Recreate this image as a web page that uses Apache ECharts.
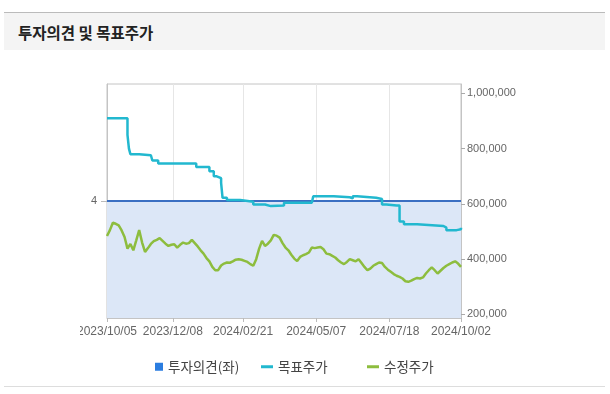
<!DOCTYPE html>
<html><head><meta charset="utf-8">
<script src="https://cdn.jsdelivr.net/npm/echarts@6/dist/echarts.min.js"></script>
<style>
html,body{margin:0;padding:0;background:#fff;width:610px;height:394px;overflow:hidden;}
#band{position:absolute;left:4px;top:12px;width:601px;height:37px;background:#f4f4f4;border-top:1px solid #bbb;}
#title{position:absolute;left:18px;top:21px;font-family:"Noto Sans CJK KR",sans-serif;font-weight:bold;font-size:15.5px;line-height:22px;color:#222;}
#foot{position:absolute;left:4px;top:386px;width:601px;height:1px;background:#ddd;}
#chart{position:absolute;left:80px;top:0;width:530px;height:394px;}
</style></head>
<body>
<div id="band"></div>
<div id="title">투자의견 및 목표주가</div>
<div id="foot"></div>
<div id="chart"></div>
<script>
// Korean market holidays (weekdays) in the period
const holidays = ['2023/10/09','2023/12/25','2023/12/29','2024/01/01','2024/02/09','2024/02/12','2024/03/01','2024/04/10','2024/05/01','2024/05/06','2024/05/15','2024/06/06','2024/08/15','2024/09/16','2024/09/17','2024/09/18','2024/10/01'];
const startDate = '2023/10/05';
const endDate = '2024/10/02';
const labelDates = ['2023/10/05','2023/12/08','2024/02/21','2024/05/07','2024/07/18','2024/10/02'];
const rightTicks = [200000,400000,600000,800000,1000000];
const leftTicks = [4];

// 투자의견 (left axis): 4 throughout
const opinionDates = ['2023/10/05','2024/10/02'];
const opinionVals = [4,4];

// 목표주가 change points (trading-day index, won)
const targetIdx = [0,14,15,16,22,30,31,35,61,70,73,75,78,79,82,91,100,105,108,112,121,140,141,155,166,168,171,184,188,191,198,200,203,212,230,232,239,242];
const targetVals = [910000,850000,800000,780000,776000,770000,757000,746000,734000,718000,700000,693000,676000,622000,614000,608000,598000,598000,592000,594000,604000,606000,628000,624000,620000,628000,622000,618000,598000,594000,594000,536000,526000,520000,514000,505000,508000,514000];

// 수정주가, every second trading day (thousand won)
const priceVals = [
484,505,532,528,522,504,480,438,455,432,
468,505,460,426,440,455,465,470,476,466,
456,448,452,454,442,452,460,456,458,470,
458,446,432,420,404,392,372,360,360,377,
384,388,387,392,398,400,398,394,390,382,
376,400,438,466,448,456,468,488,485,478,
458,442,432,416,402,393,408,414,418,424,
442,440,442,444,436,420,418,412,406,396,
388,382,390,400,396,392,400,386,372,360,
366,376,382,388,386,372,362,354,346,340,
336,330,320,318,322,328,332,330,334,348,
360,370,360,348,358,368,376,382,388,392,
384,372];

function fmt(d){const m=d.getMonth()+1,dd=d.getDate();return d.getFullYear()+'/'+(m<10?'0':'')+m+'/'+(dd<10?'0':'')+dd;}
const cats=[];
(function(){
  const s=new Date(startDate.replace(/\//g,'-')+'T00:00:00');
  const e=new Date(endDate.replace(/\//g,'-')+'T00:00:00');
  for(let d=new Date(s);d<=e;d.setDate(d.getDate()+1)){
    const w=d.getDay(); if(w===0||w===6) continue;
    const f=fmt(d); if(holidays.indexOf(f)>=0) continue;
    cats.push(f);
  }
})();
const isLbl=(i,v)=>labelDates.indexOf(v)>=0;

const opinionData = opinionDates.map((d,i)=>[d,opinionVals[i]]);
const targetData = targetIdx.map((k,i)=>[cats[Math.min(k,cats.length-1)],targetVals[i]]);
const priceData = priceVals.map((v,i)=>[cats[Math.min(i*2,cats.length-1)],v*1000]);

const chart = echarts.init(document.getElementById('chart'));
const txt = {fontFamily:'"Noto Sans CJK KR",sans-serif',fontSize:13.5,color:'#444'};
chart.setOption({
  animation:false,
  grid:{left:27,right:149,top:84,bottom:76,show:true,borderColor:'#c4c4c4',borderWidth:1,backgroundColor:'transparent',containLabel:false,outerBoundsMode:'none'},
  legend:[
    {left:70,top:355,icon:'rect',itemWidth:8,itemHeight:8,itemGap:4,textStyle:txt,selectedMode:false,
     data:[{name:'투자의견(좌)',itemStyle:{color:'#2b7de0'}}]},
    {left:176,top:355,icon:'rect',itemWidth:12,itemHeight:3,textStyle:txt,selectedMode:false,
     data:[{name:'목표주가',itemStyle:{color:'#22b8cf'}}]},
    {left:282,top:355,icon:'rect',itemWidth:12,itemHeight:3,textStyle:txt,selectedMode:false,
     data:[{name:'수정주가',itemStyle:{color:'#8dbd3e'}}]}
  ],
  xAxis:{type:'category',data:cats,boundaryGap:false,
    axisLine:{lineStyle:{color:'#c4c4c4'}},
    axisTick:{interval:isLbl,length:4,lineStyle:{color:'#bbb'}},
    axisLabel:{interval:isLbl,color:'#666',fontSize:12,fontFamily:'"Liberation Sans",Arial,sans-serif',margin:8,showMinLabel:true,showMaxLabel:true,hideOverlap:false},
    splitLine:{show:true,interval:isLbl,lineStyle:{color:'#e6e6e6'}}},
  yAxis:[
    {type:'value',position:'left',min:0,max:8,
     axisLine:{show:true,lineStyle:{color:'#c4c4c4'}},
     axisTick:{show:true,length:6,customValues:leftTicks,lineStyle:{color:'#bbb'}},
     axisLabel:{customValues:leftTicks,color:'#666',fontSize:11,fontFamily:'"Liberation Sans",Arial,sans-serif',margin:10},
     splitLine:{show:false}},
    {type:'value',position:'right',min:187000,max:1034000,
     axisLine:{show:true,lineStyle:{color:'#c4c4c4'}},
     axisTick:{show:true,length:4,customValues:rightTicks,lineStyle:{color:'#aaa'}},
     axisLabel:{customValues:rightTicks,formatter:v=>v.toLocaleString('en-US'),color:'#666',fontSize:11,fontFamily:'"Liberation Sans",Arial,sans-serif',margin:6},
     splitLine:{show:false}}
  ],
  series:[
    {name:'투자의견(좌)',type:'line',yAxisIndex:0,data:opinionData,symbol:'none',
     lineStyle:{color:'#3b6fc2',width:2},itemStyle:{color:'#2b7de0'},
     areaStyle:{color:'#dce7f7',opacity:1},z:1},
    {name:'목표주가',type:'line',yAxisIndex:1,data:targetData,step:'end',symbol:'none',
     lineStyle:{color:'#22b8cf',width:2.5},itemStyle:{color:'#22b8cf'},z:3},
    {name:'수정주가',type:'line',yAxisIndex:1,data:priceData,symbol:'none',
     lineStyle:{color:'#8dbd3e',width:2.5},itemStyle:{color:'#8dbd3e'},z:4}
  ]
});
</script>
</body></html>
